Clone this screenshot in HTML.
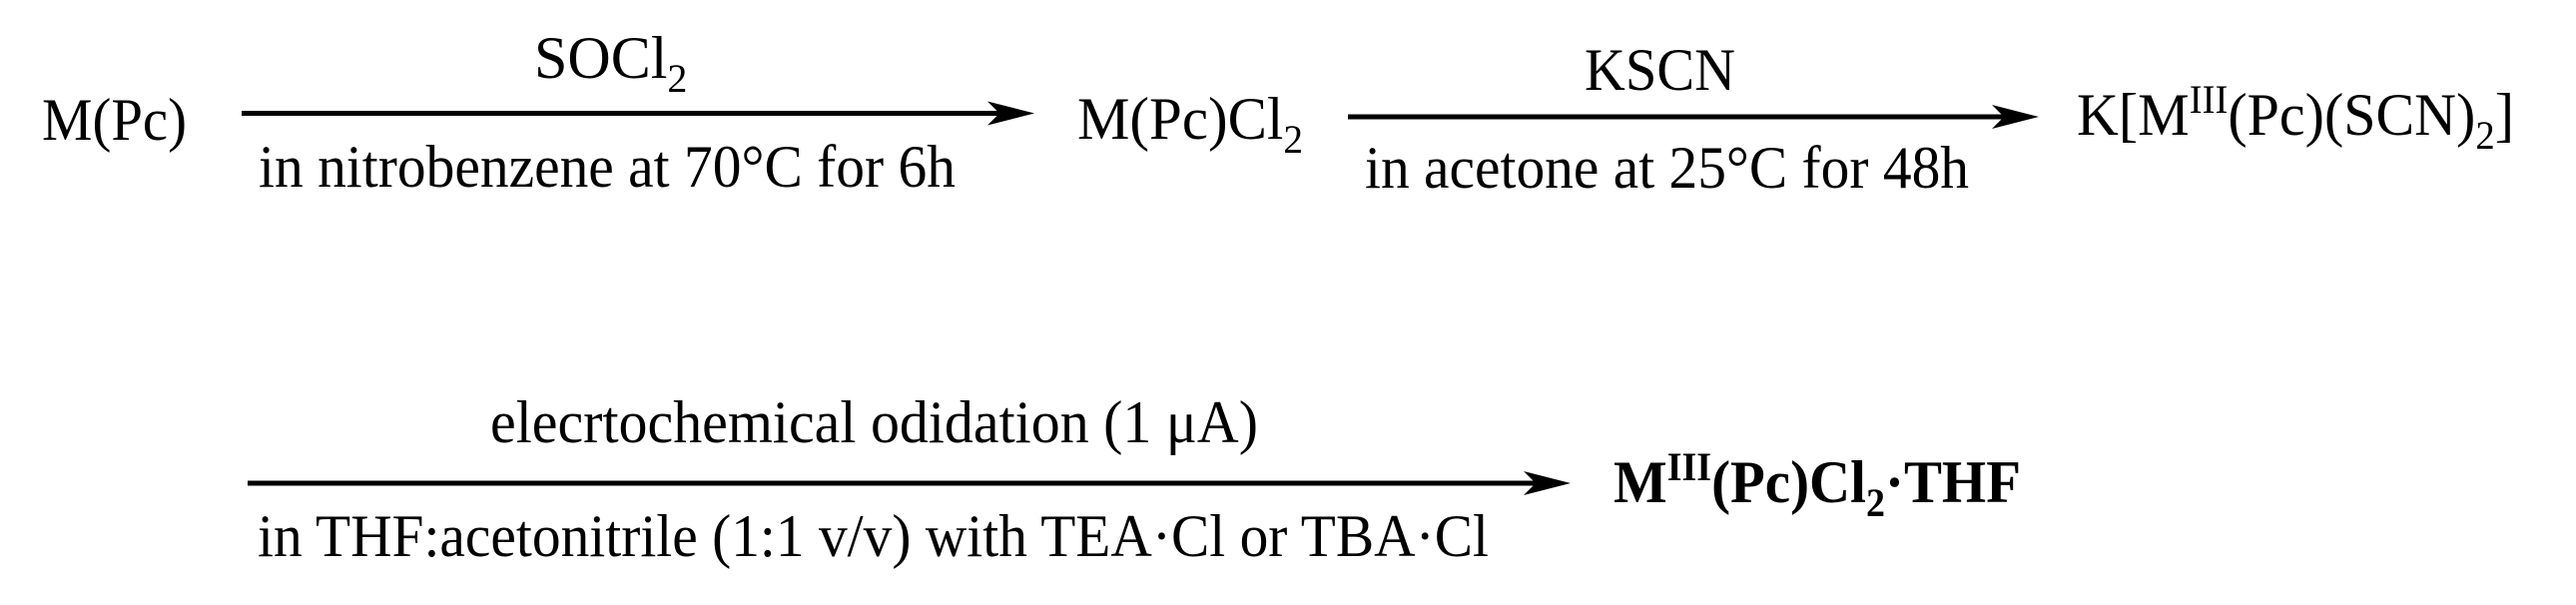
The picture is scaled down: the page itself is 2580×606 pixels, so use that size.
<!DOCTYPE html>
<html><head><meta charset="utf-8"><style>
html,body{margin:0;padding:0;background:#fff;}
svg{display:block;}
text{font-family:"Liberation Serif",serif;fill:#000;font-size:60px;}
</style></head><body>
<svg width="2580" height="606" viewBox="0 0 2580 606" xmlns="http://www.w3.org/2000/svg">
<!-- arrows -->
<rect x="242" y="111" width="760" height="5" fill="#000"/>
<path d="M1036 113.5 L989 101.5 L1001 113.5 L989 125.5 Z" fill="#000"/>
<rect x="1350" y="114.5" width="660" height="5" fill="#000"/>
<path d="M2042 117 L1995 105 L2007 117 L1995 129 Z" fill="#000"/>
<rect x="248" y="481.5" width="1292" height="5" fill="#000"/>
<path d="M1573 484 L1526 472 L1538 484 L1526 496 Z" fill="#000"/>

<text x="42" y="140" textLength="145" lengthAdjust="spacingAndGlyphs">M(Pc)</text>
<text x="535" y="78">SOCl<tspan font-size="40" dy="14">2</tspan></text>
<text x="259" y="187" textLength="698" lengthAdjust="spacingAndGlyphs">in nitrobenzene at 70°C for 6h</text>
<text x="1079" y="139" textLength="226" lengthAdjust="spacingAndGlyphs">M(Pc)Cl<tspan font-size="40" dy="14">2</tspan></text>
<text x="1587" y="90" textLength="151" lengthAdjust="spacingAndGlyphs">KSCN</text>
<text x="1367" y="188" textLength="605" lengthAdjust="spacingAndGlyphs">in acetone at 25°C for 48h</text>
<text x="2080" y="135" textLength="438" lengthAdjust="spacingAndGlyphs">K[M<tspan font-size="40" dy="-22">III</tspan><tspan dy="22">(Pc)(SCN)</tspan><tspan font-size="40" dy="14">2</tspan><tspan dy="-14">]</tspan></text>

<text x="491" y="443" textLength="769" lengthAdjust="spacingAndGlyphs">elecrtochemical odidation (1 μA)</text>
<text x="258" y="557" textLength="1233" lengthAdjust="spacingAndGlyphs">in THF:acetonitrile (1:1 v/v) with TEA·Cl or TBA·Cl</text>
<text x="1616" y="503" font-weight="bold" textLength="408" lengthAdjust="spacingAndGlyphs">M<tspan font-size="40" dy="-22">III</tspan><tspan dy="22">(Pc)Cl</tspan><tspan font-size="40" dy="14">2</tspan><tspan dy="-14">·THF</tspan></text>
</svg>
</body></html>
